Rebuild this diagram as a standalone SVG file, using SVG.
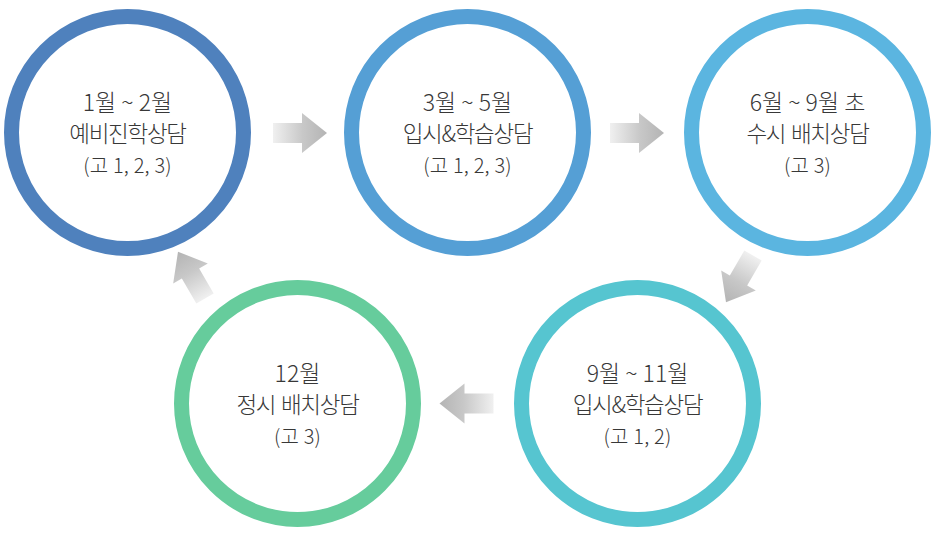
<svg xmlns="http://www.w3.org/2000/svg" width="935" height="535" viewBox="0 0 935 535">
  <style>
    .ring { fill: #ffffff; stroke-width: 15; }
    .t { font-family: "Noto Sans CJK KR", "Noto Sans", sans-serif; font-weight: 300; fill: #383838; text-anchor: middle; }
    .l1 { font-size: 23px; letter-spacing: 0px; }
    .l2 { font-size: 22.5px; letter-spacing: -1.3px; word-spacing: 2px; }
    .l3 { font-size: 20px; letter-spacing: 0.2px; }
    .arrow { fill: url(#ag); }
  </style>
  <defs>
    <linearGradient id="ag" x1="0" y1="0" x2="1" y2="0">
      <stop offset="0" stop-color="#f0f0f0"/>
      <stop offset="0.55" stop-color="#c8c8c8"/>
      <stop offset="1" stop-color="#b4b4b4"/>
    </linearGradient>
    <path id="arr" d="M0,-10 H29 V-20 L54,0 L29,20 V10 H0 Z"/>
  </defs>
  <rect width="935" height="535" fill="#ffffff"/>

  <g id="connectors">
    <use href="#arr" class="arrow" transform="translate(273,133)"/>
    <use href="#arr" class="arrow" transform="translate(610,133)"/>
    <use href="#arr" class="arrow" transform="translate(753,255.5) rotate(120)"/>
    <use href="#arr" class="arrow" transform="translate(493.5,403.5) rotate(180)"/>
    <use href="#arr" class="arrow" transform="translate(205,298.5) rotate(240)"/>
  </g>

  <g id="node1">
    <circle class="ring" cx="127.5" cy="132.5" r="116" stroke="#4f81bd"/>
    <text class="t l1" x="127.5" y="110.5">1월 ~ 2월</text>
    <text class="t l2" x="127.5" y="141.5">예비진학상담</text>
    <text class="t l3" x="127.5" y="172.5">(고 1, 2, 3)</text>
  </g>
  <g id="node2">
    <circle class="ring" cx="467.5" cy="132.5" r="116" stroke="#559fd5"/>
    <text class="t l1" x="467.5" y="110.5">3월 ~ 5월</text>
    <text class="t l2" x="467.5" y="141.5">입시&amp;학습상담</text>
    <text class="t l3" x="467.5" y="172.5">(고 1, 2, 3)</text>
  </g>
  <g id="node3">
    <circle class="ring" cx="807.5" cy="132.5" r="116" stroke="#5bb5e0"/>
    <text class="t l1" x="807.5" y="110.5">6월 ~ 9월 초</text>
    <text class="t l2" x="807.5" y="141.5">수시 배치상담</text>
    <text class="t l3" x="807.5" y="172.5">(고 3)</text>
  </g>
  <g id="node4">
    <circle class="ring" cx="637.5" cy="403.5" r="116" stroke="#56c5d0"/>
    <text class="t l1" x="637.5" y="381.5">9월 ~ 11월</text>
    <text class="t l2" x="637.5" y="412.5">입시&amp;학습상담</text>
    <text class="t l3" x="637.5" y="443.5">(고 1, 2)</text>
  </g>
  <g id="node5">
    <circle class="ring" cx="297.5" cy="403.5" r="116" stroke="#66cc9c"/>
    <text class="t l1" x="297.5" y="381.5">12월</text>
    <text class="t l2" x="297.5" y="412.5">정시 배치상담</text>
    <text class="t l3" x="297.5" y="443.5">(고 3)</text>
  </g>
</svg>
